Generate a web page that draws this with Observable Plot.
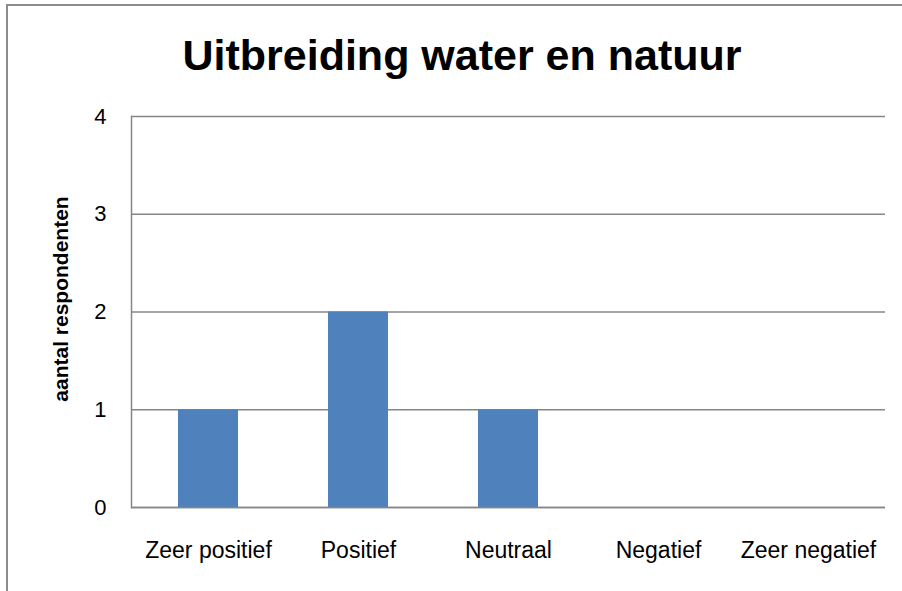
<!DOCTYPE html>
<html>
<head>
<meta charset="utf-8">
<script src="https://cdn.jsdelivr.net/npm/d3@7"></script>
<script src="https://cdn.jsdelivr.net/npm/@observablehq/plot@0.6"></script>
<style>
  html, body { margin: 0; padding: 0; background: #fff; }
  #wrap { position: relative; width: 902px; height: 591px; overflow: hidden; font-family: "Liberation Sans", Arial, sans-serif; }
  #frame { position: absolute; left: 6px; top: 4px; width: 1000px; height: 1000px; border-left: 2px solid #8c8c8c; border-top: 2px solid #8c8c8c; box-sizing: border-box; }
  #title { position: absolute; left: 0; top: 0; width: 924px; height: 100px; line-height: 110px; text-align: center; font-weight: bold; font-size: 43px; color: #000; }
  #chart { position: absolute; left: 0; top: 100px; }
</style>
</head>
<body>
<div id="wrap">
  <div id="frame"></div>
  <div id="title"></div>
  <div id="chart"></div>
</div>
<script>
const categories = ["Zeer positief", "Positief", "Neutraal", "Negatief", "Zeer negatief"];
const values = [1, 2, 1, 0, 0];
const yTicks = [0, 1, 2, 3, 4];
const title = "Uitbreiding water en natuur";
const yLabel = "aantal respondenten";

document.getElementById("title").textContent = title;

const data = categories.map((c, i) => ({category: c, value: values[i]}));

const chart = Plot.plot({
  width: 902,
  height: 491,
  marginLeft: 131,
  marginRight: 17,
  marginTop: 16,
  marginBottom: 84,
  style: {fontFamily: "'Liberation Sans', Arial, sans-serif", fontSize: "22px", color: "#000", background: "transparent"},
  x: {domain: categories, padding: 0.6, paddingOuter: 0.3, label: null},
  y: {domain: [0, 4], label: null},
  marks: [
    Plot.gridY(yTicks, {stroke: "#868686", strokeWidth: 1.5, strokeOpacity: 1}),
    Plot.barY(data, {x: "category", y: "value", fill: "#4F81BD"}),
    Plot.frame({anchor: "left", stroke: "#868686", strokeWidth: 1.5}),
    Plot.ruleY([0], {stroke: "#868686", strokeWidth: 1.5}),
    Plot.axisY(yTicks, {tickSize: 0, tickPadding: 25, fontSize: 22, tickFormat: "d", label: null}),
    Plot.axisX({tickSize: 0, tickPadding: 34, fontSize: 23, label: null}),
    Plot.text([yLabel], {frameAnchor: "left", textAnchor: "middle", lineAnchor: "middle", dx: -70, dy: -13, rotate: -90, fontWeight: "bold", fontSize: 21, fill: "#000"})
  ]
});
document.getElementById("chart").appendChild(chart);
</script>
</body>
</html>
